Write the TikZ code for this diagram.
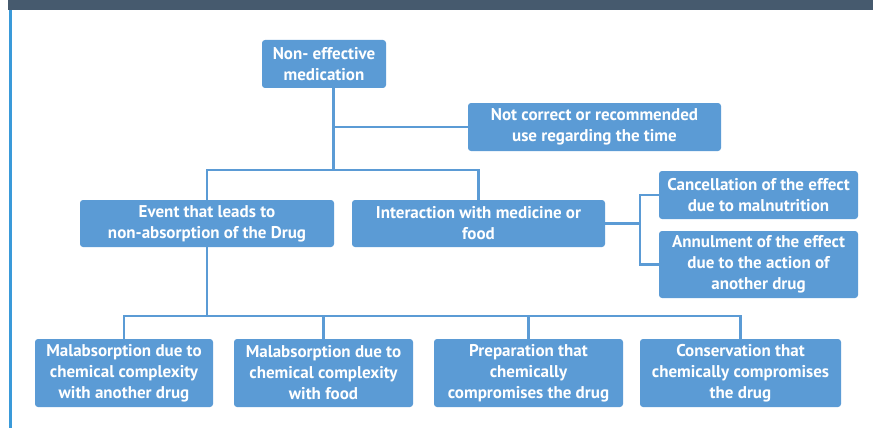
\documentclass[tikz,border=0pt]{standalone}
\usepackage{fontspec}
\setmainfont{PT Sans}
\usepackage{tikz}
\usetikzlibrary{positioning,calc}
\usepackage{xcolor}
\definecolor{boxblue}{HTML}{5B9BD5}
\definecolor{barslate}{HTML}{465A6E}
\definecolor{edgeblue}{HTML}{3A9AD9}

\tikzset{
    causebox/.style={fill=boxblue, rounded corners=3pt, inner sep=0pt,
        text=white, align=center, font=\fontsize{17}{21}\selectfont\bfseries},
    link/.style={draw=boxblue, line width=2.4pt}
}

\begin{document}
\begin{tikzpicture}[x=1pt,y=-1pt]
    \useasboundingbox (0,0) rectangle (873,428);
    % 顶栏和左边线
    \fill[barslate] (8,0) rectangle (873,10.5);
    \fill[edgeblue] (8.5,10.5) rectangle (12,428);

    % 根节点
    \node[causebox, minimum width=124pt, minimum height=48pt] (root) at (324,64) {Non- effective\\medication};
    \node[causebox, minimum width=253pt, minimum height=48pt] (time) at (594.5,127) {Not correct or recommended\\use regarding the time};

    % 第二层
    \node[causebox, minimum width=254pt, minimum height=47pt] (event) at (207,223.5) {Event that leads to\\non-absorption of the Drug};
    \node[causebox, minimum width=253pt, minimum height=47pt] (inter) at (478.5,223.5) {Interaction with medicine or\\food};
    \node[causebox, minimum width=199pt, minimum height=48pt] (cancel) at (758.5,195) {Cancellation of the effect\\due to malnutrition};
    \node[causebox, minimum width=199pt, minimum height=67pt] (annul) at (758.5,264.5) {Annulment of the effect\\due to the action of\\another drug};

    % 第三层
    \node[causebox, minimum width=178pt, minimum height=68pt] (mal1) at (124,373) {Malabsorption due to\\chemical complexity\\with another drug};
    \node[causebox, minimum width=179pt, minimum height=68pt] (mal2) at (323.5,373) {Malabsorption due to\\chemical complexity\\with food};
    \node[causebox, minimum width=189pt, minimum height=68pt] (prep) at (528.5,373) {Preparation that\\chemically\\compromises the drug};
    \node[causebox, minimum width=201pt, minimum height=68pt] (cons) at (740.5,373) {Conservation that\\chemically compromises\\the drug};

    % 连线
    \coordinate (hub) at (333.5,170);
    \coordinate (fork) at (640,223.5);
    \coordinate (bus) at (207,316);
    \draw[link] (root.south -| hub) -- (hub);
    \draw[link] (hub |- time.west) -- (time.west);
    \draw[link] (event.north) |- (hub) -| (inter.north);
    \draw[link] (inter.east) -- (fork);
    \draw[link] (cancel.west) -| (fork) |- (annul.west);
    \draw[link] (event.south) -- (bus);
    \draw[link] (mal1.north) |- (bus) -| (cons.north);
    \draw[link] (mal2.north) -- (mal2.north |- bus);
    \draw[link] (prep.north) -- (prep.north |- bus);
\end{tikzpicture}
\end{document}
